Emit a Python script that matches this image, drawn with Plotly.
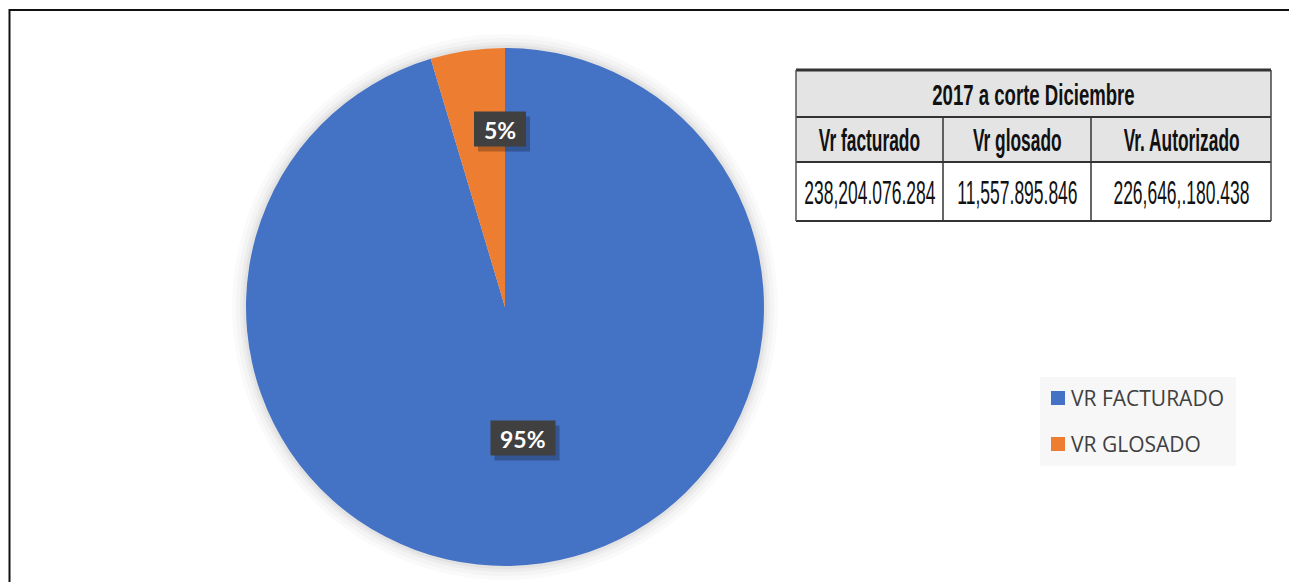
import json
import plotly.graph_objects as go

# ---- data ----
labels = ["VR FACTURADO", "VR GLOSADO"]
values = [238204076284, 11557895846]
colors = ["#4472C4", "#ED7D31"]

table_title = "2017 a corte Diciembre"
table_headers = ["Vr facturado", "Vr glosado", "Vr. Autorizado"]
table_values = ["238,204.076.284", "11,557.895.846", "226,646,.180.438"]

# ---- canvas geometry (pixels) ----
W, H = 1289, 582
PIE_CX, PIE_CY, PIE_R = 505, 307, 259


def px(x):
    return x / W


def py(y):
    return 1 - y / H


fig = go.Figure()

fig.add_trace(go.Pie(
    labels=labels,
    values=values,
    marker=dict(colors=colors, line=dict(width=0)),
    sort=False,
    direction="clockwise",
    rotation=0,
    textinfo="none",
    hoverinfo="label+percent",
    showlegend=False,
    domain=dict(x=[px(PIE_CX - PIE_R), px(PIE_CX + PIE_R)],
                y=[py(PIE_CY + PIE_R), py(PIE_CY - PIE_R)]),
))

shapes = []
annotations = []


def note(x, y, text, font, **kw):
    d = dict(x=px(x), y=py(y), xref="paper", yref="paper", text=text,
             showarrow=False, xanchor="center", yanchor="middle", font=font)
    d.update(kw)
    annotations.append(d)


def rect(x0, y0, x1, y1, fill, layer="above", line=None):
    shapes.append(dict(type="rect", xref="paper", yref="paper",
                       x0=px(x0), x1=px(x1), y0=py(y1), y1=py(y0),
                       fillcolor=fill, line=line or dict(width=0), layer=layer))


# outer frame
rect(9.5, 10, 1300, 600, "rgba(0,0,0,0)", layer="below",
     line=dict(color="#111111", width=2))

# soft halo around the pie
for grow, alpha in [(14, 0.018), (10, 0.022), (6, 0.03), (3, 0.04)]:
    r = PIE_R + grow
    shapes.append(dict(type="circle", xref="paper", yref="paper",
                       x0=px(PIE_CX - r), x1=px(PIE_CX + r),
                       y0=py(PIE_CY + r), y1=py(PIE_CY - r),
                       line=dict(width=0), fillcolor=f"rgba(0,0,0,{alpha})",
                       layer="below"))

# percentage labels in dark boxes with a drop shadow
total = sum(values)
label_pos = [(523, 438), (500, 129)]
label_font = "Lato, Open Sans, sans-serif"
for v, (lx, ly) in zip(values, label_pos):
    txt = f"{v / total:.0%}"
    bw, bh = 26 + 13 * len(txt), 35
    rect(lx - bw / 2 + 4, ly - bh / 2 + 5, lx + bw / 2 + 4, ly + bh / 2 + 5,
         "rgba(0,0,0,0.25)")
    rect(lx - bw / 2, ly - bh / 2, lx + bw / 2, ly + bh / 2, "#404040")
    note(lx, ly + 1, f"<b>{txt}</b>", dict(family=label_font, size=23, color="#FFFFFF"))

# ---- summary table ----
T_L, T_R = 796, 1271
COL_X = [796, 943, 1091, 1271]
ROW_Y = [70, 117, 162, 221]
tfont = "Liberation Sans, Arial, sans-serif"

rect(T_L, ROW_Y[0], T_R, ROW_Y[2], "#E4E4E4")
rect(T_L, ROW_Y[2], T_R, ROW_Y[3], "#FFFFFF")
for yv, wdt in zip(ROW_Y, [3, 2, 2, 2]):
    shapes.append(dict(type="line", xref="paper", yref="paper",
                       x0=px(T_L), x1=px(T_R), y0=py(yv), y1=py(yv),
                       line=dict(color="#333333", width=wdt)))
shapes.append(dict(type="line", xref="paper", yref="paper",
                   x0=px(T_L), x1=px(T_L), y0=py(ROW_Y[0]), y1=py(ROW_Y[3]),
                   line=dict(color="#555555", width=1.5)))
shapes.append(dict(type="line", xref="paper", yref="paper",
                   x0=px(T_R), x1=px(T_R), y0=py(ROW_Y[0]), y1=py(ROW_Y[3]),
                   line=dict(color="#444444", width=1.5)))
for cx in COL_X[1:3]:
    shapes.append(dict(type="line", xref="paper", yref="paper",
                       x0=px(cx), x1=px(cx), y0=py(ROW_Y[1]), y1=py(ROW_Y[3]),
                       line=dict(color="#333333", width=1.5)))

# horizontal squeeze per table row (narrow typeface look)
squeeze = {table_title: 0.62}
note((T_L + T_R) / 2, (ROW_Y[0] + ROW_Y[1]) / 2 + 1, f"<b>{table_title}</b>",
     dict(family=tfont, size=30, color="#111111"))
for i, (hdr, val) in enumerate(zip(table_headers, table_values)):
    cx = (COL_X[i] + COL_X[i + 1]) / 2
    note(cx, (ROW_Y[1] + ROW_Y[2]) / 2 + 1, f"<b>{hdr}</b>",
         dict(family=tfont, size=31, color="#111111"))
    note(cx, (ROW_Y[2] + ROW_Y[3]) / 2 + 1, val,
         dict(family=tfont, size=33, color="#111111"))
    squeeze[hdr] = 0.56
    squeeze[val] = 0.53

# ---- legend ----
rect(1040, 377, 1236, 466, "#F7F7F7")
for i, (lab, col) in enumerate(zip(labels, colors)):
    yc = 398 + i * 46
    rect(1051, yc - 7, 1065, yc + 7, col)
    note(1069, yc, lab, dict(family="Open Sans, Noto Sans, sans-serif",
                             size=21, color="#404040"), xanchor="left")

fig.update_layout(
    width=W, height=H,
    margin=dict(l=0, r=0, t=0, b=0),
    paper_bgcolor="#FFFFFF",
    plot_bgcolor="#FFFFFF",
    shapes=shapes,
    annotations=annotations,
    showlegend=False,
)

squeeze_js = """
var sq = %s;
function narrowText() {
  document.querySelectorAll('text.annotation-text').forEach(function (t) {
    var k = sq[t.textContent];
    if (k) {
      t.style.transformBox = 'fill-box';
      t.style.transformOrigin = 'center';
      t.style.transform = 'scaleX(' + k + ')';
    }
  });
}
narrowText();
setTimeout(narrowText, 50);
setTimeout(narrowText, 300);
""" % json.dumps(squeeze)

fig.write_html("out.html", post_script=squeeze_js)
